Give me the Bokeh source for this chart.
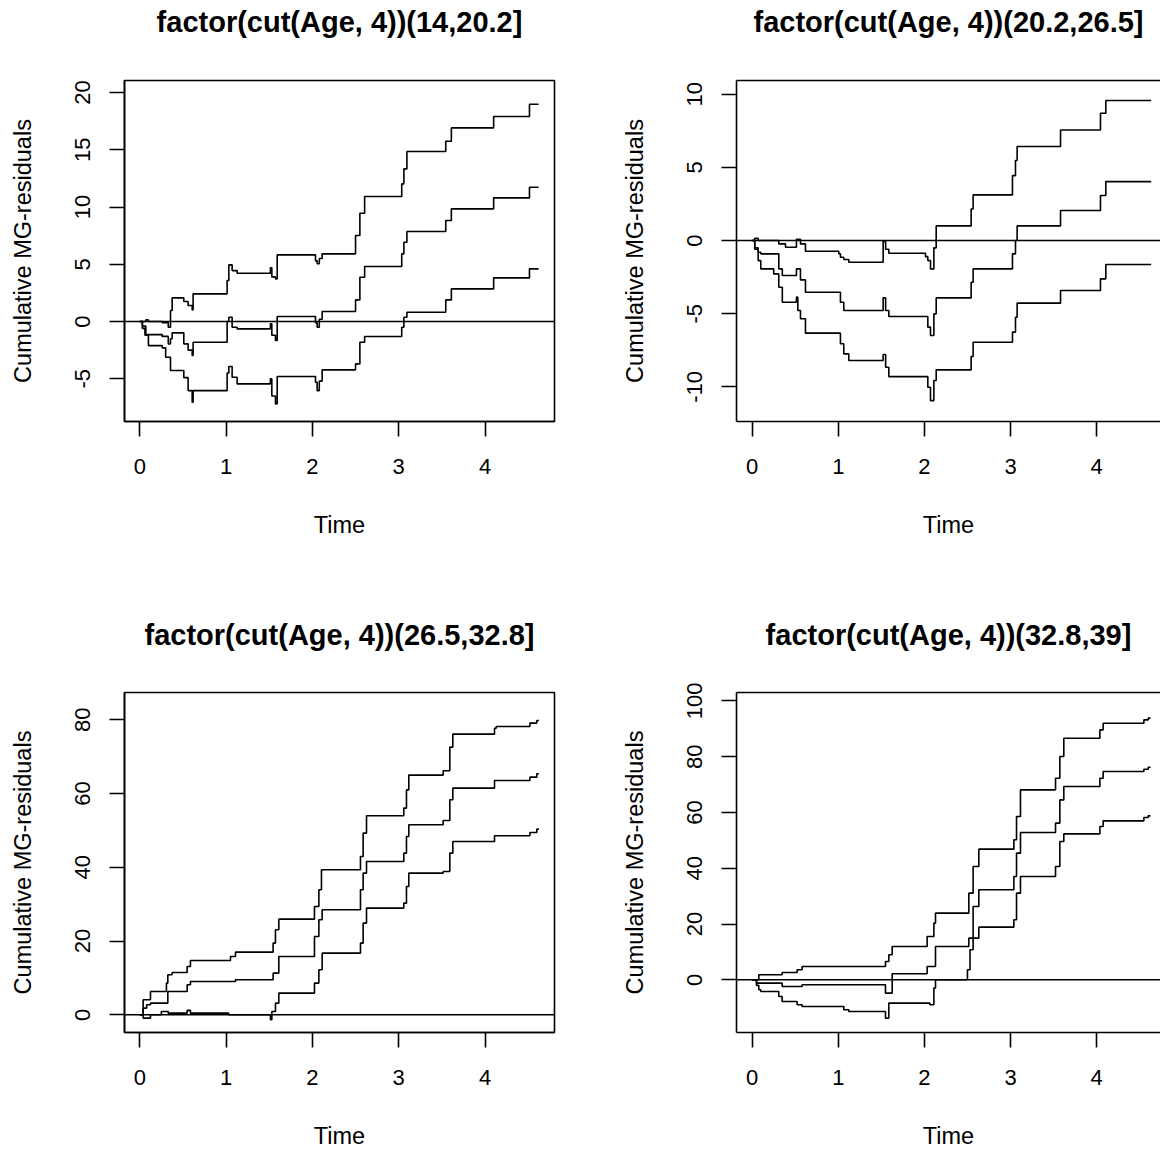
from bokeh.plotting import figure
from bokeh.layouts import column, row
from bokeh.models import Range1d, FixedTicker, Span, LinearAxis
from bokeh.embed import file_html
from bokeh.resources import INLINE

# ---------------- data ----------------
titles = ["factor(cut(Age, 4))(14,20.2]", "factor(cut(Age, 4))(20.2,26.5]",
          "factor(cut(Age, 4))(26.5,32.8]", "factor(cut(Age, 4))(32.8,39]"]
x_label = "Time"
y_label = "Cumulative MG-residuals"
x_ticks = [0, 1, 2, 3, 4]

# panel 1 : (14,20.2]
p1_a_t = [0, 0.07, 0.10, 0.26, 0.33, 0.356, 0.375, 0.51, 0.56, 0.607, 0.618, 1.012, 1.032, 1.07, 1.128, 1.514, 1.53, 1.572, 1.592, 2.036, 2.055, 2.08, 2.113, 2.50, 2.55, 2.605, 3.035, 3.06, 3.095, 3.545, 3.61, 4.10, 4.515, 4.62]
p1_a_v = [0, 0.15, 0.0, -0.1, -0.5, 0.96, 2.07, 1.75, 1.4, 1.02, 2.42, 3.58, 4.95, 4.45, 4.22, 4.7, 3.9, 3.73, 5.82, 5.3, 5.04, 5.5, 5.91, 7.51, 9.46, 10.92, 12.02, 13.33, 14.85, 15.75, 16.91, 17.90, 18.98, 18.98]
p1_b_t = [0, 0.03, 0.07, 0.26, 0.33, 0.356, 0.375, 0.51, 0.56, 0.607, 0.618, 1.012, 1.032, 1.07, 1.128, 1.514, 1.53, 1.572, 1.592, 2.036, 2.055, 2.08, 2.113, 2.50, 2.55, 2.605, 3.035, 3.06, 3.095, 3.545, 3.61, 4.10, 4.515, 4.62]
p1_b_v = [0, -0.4, -1.14, -1.3, -1.95, -1.5, -0.99, -1.95, -2.5, -2.97, -1.81, 0.0, 0.38, -0.5, -0.64, -0.2, -1.2, -1.66, 0.44, -0.1, -0.5, 0.2, 0.87, 1.89, 3.87, 4.80, 5.91, 6.93, 7.86, 8.82, 9.84, 10.80, 11.73, 11.73]
p1_c_t = [0, 0.03, 0.06, 0.10, 0.26, 0.30, 0.356, 0.51, 0.56, 0.607, 0.618, 1.012, 1.032, 1.07, 1.128, 1.514, 1.53, 1.572, 1.592, 2.036, 2.055, 2.08, 2.113, 2.50, 2.55, 2.605, 3.035, 3.06, 3.095, 3.545, 3.61, 4.10, 4.515, 4.62]
p1_c_v = [0, -0.6, -1.2, -2.10, -2.3, -3.12, -4.28, -4.9, -6.03, -7.05, -6.03, -4.5, -3.93, -4.86, -5.44, -5.0, -6.5, -7.19, -4.80, -5.3, -6.03, -5.2, -4.22, -3.70, -1.81, -1.31, -0.50, 0.38, 0.81, 1.89, 2.85, 3.81, 4.60, 4.60]

# panel 2 : (20.2,26.5]
p2_a_t = [0, 0.03, 0.07, 0.309, 0.387, 0.514, 0.561, 0.619, 1.006, 1.025, 1.064, 1.122, 1.521, 1.55, 1.587, 2.013, 2.040, 2.071, 2.110, 2.137, 2.543, 2.566, 3.023, 3.058, 3.077, 3.581, 4.045, 4.107, 4.634]
p2_a_v = [0, 0.15, 0.0, -0.23, -0.46, 0.09, -0.23, -0.73, -0.9, -1.14, -1.30, -1.48, -0.07, -0.6, -0.87, -1.1, -1.37, -1.94, -0.5, 1.00, 2.16, 3.12, 4.44, 5.47, 6.43, 7.56, 8.70, 9.57, 9.57]
p2_b_t = [0, 0.03, 0.07, 0.10, 0.309, 0.35, 0.514, 0.561, 0.619, 1.025, 1.064, 1.521, 1.55, 1.587, 2.040, 2.071, 2.110, 2.137, 2.543, 2.566, 3.023, 3.058, 3.077, 3.581, 4.045, 4.107, 4.634]
p2_b_v = [0, -0.5, -0.80, -0.91, -1.94, -2.39, -1.94, -2.69, -3.53, -4.22, -4.78, -3.92, -4.78, -5.19, -5.92, -6.49, -5.01, -3.92, -2.85, -1.94, -0.91, 0.0, 1.00, 2.05, 3.08, 4.03, 4.03]
p2_c_t = [0, 0.03, 0.07, 0.10, 0.25, 0.309, 0.35, 0.514, 0.53, 0.561, 0.619, 1.025, 1.064, 1.122, 1.521, 1.55, 1.587, 2.040, 2.071, 2.110, 2.137, 2.543, 2.566, 3.023, 3.058, 3.077, 3.581, 4.045, 4.107, 4.634]
p2_c_v = [0, -0.6, -1.37, -1.94, -2.28, -3.19, -4.22, -3.87, -4.78, -5.35, -6.33, -7.06, -7.75, -8.20, -7.79, -8.66, -9.30, -10.03, -10.94, -9.57, -8.84, -7.93, -6.95, -6.26, -5.24, -4.28, -3.42, -2.62, -1.64, -1.64]

# panel 3 : (26.5,32.8]
p3_a_t = [0, 0.039, 0.124, 0.309, 0.325, 0.375, 0.549, 0.587, 1.051, 1.109, 1.545, 1.572, 1.611, 2.024, 2.075, 2.105, 2.557, 2.588, 2.627, 3.059, 3.090, 3.117, 3.515, 3.592, 3.627, 4.110, 4.13, 4.520, 4.60, 4.624]
p3_a_v = [0, 4.07, 6.33, 8.59, 10.85, 11.48, 13.11, 14.73, 15.82, 17.0, 19.44, 23.05, 25.94, 29.38, 33.9, 39.32, 42.94, 49.27, 53.97, 56.05, 61.0, 65.0, 66.17, 72.6, 76.1, 77.7, 78.2, 79.1, 79.8, 79.8]
p3_b_t = [0, 0.039, 0.08, 0.124, 0.325, 0.549, 0.587, 1.109, 1.545, 1.611, 2.024, 2.075, 2.113, 2.557, 2.588, 2.627, 3.059, 3.090, 3.117, 3.515, 3.592, 3.627, 4.110, 4.520, 4.60, 4.624]
p3_b_v = [0, 1.81, 2.71, 3.16, 6.33, 8.14, 9.04, 9.5, 11.3, 15.82, 21.24, 25.76, 28.47, 33.9, 38.42, 41.58, 43.84, 48.36, 51.53, 52.7, 58.31, 61.47, 63.55, 64.45, 65.36, 65.36]
p3_c_t = [0, 0.039, 0.124, 0.25, 0.33, 0.549, 0.587, 1.03, 1.514, 1.53, 1.572, 1.611, 2.024, 2.075, 2.113, 2.557, 2.588, 2.627, 3.059, 3.090, 3.117, 3.515, 3.592, 3.627, 4.110, 4.520, 4.60, 4.624]
p3_c_v = [0, -0.9, 0.0, 0.9, 0.45, 1.2, 0.45, 0.0, -1.36, 0.9, 3.16, 5.88, 8.59, 12.2, 16.72, 19.44, 24.86, 28.93, 30.28, 34.8, 38.42, 38.87, 43.84, 47.0, 48.54, 49.45, 50.35, 50.35]

# panel 4 : (32.8,39]
p4_a_t = [0, 0.077, 0.348, 0.522, 0.580, 1.548, 1.587, 1.626, 2.032, 2.110, 2.129, 2.516, 2.566, 2.632, 3.039, 3.070, 3.116, 3.523, 3.573, 3.619, 4.038, 4.076, 4.549, 4.60, 4.626]
p4_a_v = [0, 1.79, 2.63, 3.58, 4.78, 6.57, 8.96, 11.95, 15.53, 20.31, 23.89, 31.06, 40.62, 46.83, 50.18, 58.54, 68.1, 72.28, 80.05, 86.62, 89.6, 92.0, 93.2, 93.8, 93.8]
p4_b_t = [0, 0.05, 0.348, 0.580, 1.548, 1.626, 2.032, 2.129, 2.516, 2.566, 2.632, 3.039, 3.070, 3.116, 3.523, 3.573, 3.619, 4.038, 4.076, 4.549, 4.60, 4.626]
p4_b_v = [0, -1.19, -2.39, -1.79, -4.78, 2.15, 4.78, 11.95, 14.93, 26.28, 32.26, 37.04, 45.4, 52.8, 56.15, 64.5, 69.3, 72.28, 74.67, 75.5, 76.2, 76.2]
p4_c_t = [0, 0.05, 0.077, 0.10, 0.309, 0.348, 0.522, 0.580, 1.064, 1.122, 1.548, 1.587, 2.063, 2.110, 2.129, 2.50, 2.53, 2.566, 2.632, 3.039, 3.070, 3.116, 3.523, 3.573, 3.619, 4.038, 4.076, 4.549, 4.60, 4.626]
p4_c_v = [0, -2.0, -3.58, -4.18, -5.97, -7.77, -8.96, -9.56, -10.75, -11.35, -13.74, -8.36, -8.96, -2.99, 0.0, 3.58, 10.75, 14.93, 18.88, 21.5, 31.06, 37.04, 40.62, 49.58, 52.33, 54.96, 56.99, 58.18, 58.78, 58.78]

y_ticks = [[-5, 0, 5, 10, 15, 20], [-10, -5, 0, 5, 10], [0, 20, 40, 60, 80], [0, 20, 40, 60, 80, 100]]
y_limits = [(-8.73, 21.05), (-12.37, 10.94), (-4.8, 87.4), (-18.9, 103.0)]

series = [
    [(p1_a_t, p1_a_v), (p1_b_t, p1_b_v), (p1_c_t, p1_c_v)],
    [(p2_a_t, p2_a_v), (p2_b_t, p2_b_v), (p2_c_t, p2_c_v)],
    [(p3_a_t, p3_a_v), (p3_b_t, p3_b_v), (p3_c_t, p3_c_v)],
    [(p4_a_t, p4_a_v), (p4_b_t, p4_b_v), (p4_c_t, p4_c_v)],
]

FONT = "Liberation Sans"
LW = 1.6
TITLE_H = 52


def make_title_fig(i):
    right = i % 2 == 1
    bottom = i >= 2
    tf = figure(width=548 if right else 612, height=TITLE_H, output_backend="svg",
                toolbar_location=None, x_axis_location=None, y_axis_location=None,
                min_border_left=124, min_border_right=0 if right else 58,
                min_border_top=39 if bottom else 38, min_border_bottom=0)
    tf.outline_line_color = None
    tf.xgrid.visible = False
    tf.ygrid.visible = False
    tf.background_fill_color = "white"
    tf.border_fill_color = "white"
    tf.title.text = titles[i]
    tf.title.text_font = FONT
    tf.title.text_font_size = "29px"
    tf.title.text_font_style = "bold"
    tf.title.text_color = "black"
    tf.title.align = "center"
    tf.title.standoff = 2
    return tf


def make_panel(i):
    right = i % 2 == 1
    bottom = i >= 2
    width = 548 if right else 612
    height = (1151 - 612 - TITLE_H) if bottom else (612 - TITLE_H)
    xr = Range1d(-0.182, 4.742) if right else Range1d(-0.177, 4.805)
    top_b = 80 - TITLE_H
    frame_h = 340 if bottom else 341
    p = figure(width=width, height=height, x_range=xr, y_range=Range1d(*y_limits[i]),
               output_backend="svg", toolbar_location=None,
               min_border_left=124, min_border_right=0 if right else 58,
               min_border_top=top_b, min_border_bottom=height - top_b - frame_h)

    p.xgrid.visible = False
    p.ygrid.visible = False
    p.background_fill_color = "white"
    p.border_fill_color = "white"

    xa = p.below[0]
    ya = p.left[0]
    for ax in (xa, ya):
        ax.axis_line_color = "black"
        ax.axis_line_width = LW
        ax.major_tick_line_color = "black"
        ax.major_tick_line_width = LW
        ax.major_tick_out = 15
        ax.major_tick_in = 0
        ax.minor_tick_line_color = None
        ax.major_label_text_font = FONT
        ax.major_label_text_font_size = "22px"
        ax.major_label_text_color = "black"
        ax.axis_label_text_font = FONT
        ax.axis_label_text_font_size = "23.5px"
        ax.axis_label_text_font_style = "normal"
        ax.axis_label_text_color = "black"

    xa.ticker = FixedTicker(ticks=x_ticks)
    xa.major_label_overrides = {t: str(t) for t in x_ticks}
    xa.axis_label = x_label
    xa.major_label_standoff = 22
    xa.axis_label_standoff = 35

    ya.ticker = FixedTicker(ticks=y_ticks[i])
    ya.major_label_overrides = {t: str(t) for t in y_ticks[i]}
    ya.major_label_orientation = "vertical"
    ya.axis_label = y_label
    ya.major_label_standoff = 19
    ya.axis_label_standoff = 37

    if right:
        # the right edge of the box lies beyond the page; draw only the top edge
        p.outline_line_color = None
        top_axis = LinearAxis(ticker=FixedTicker(ticks=[]), axis_line_color="black", axis_line_width=LW,
                              major_tick_line_color=None, minor_tick_line_color=None,
                              major_tick_out=0, major_tick_in=0, major_label_standoff=0,
                              major_label_text_font_size="0px")
        p.add_layout(top_axis, "above")
    else:
        p.outline_line_color = "black"
        p.outline_line_width = LW

    p.add_layout(Span(location=0, dimension="width", line_color="black", line_width=LW))
    for t, v in series[i]:
        p.step(t, v, mode="after", line_color="black", line_width=LW)
    return p


tfs = [make_title_fig(i) for i in range(4)]
panels = [make_panel(i) for i in range(4)]
layout = column(row(tfs[0], tfs[1]), row(panels[0], panels[1]),
                row(tfs[2], tfs[3]), row(panels[2], panels[3]))

open("out.html", "w").write(file_html(layout, INLINE))
